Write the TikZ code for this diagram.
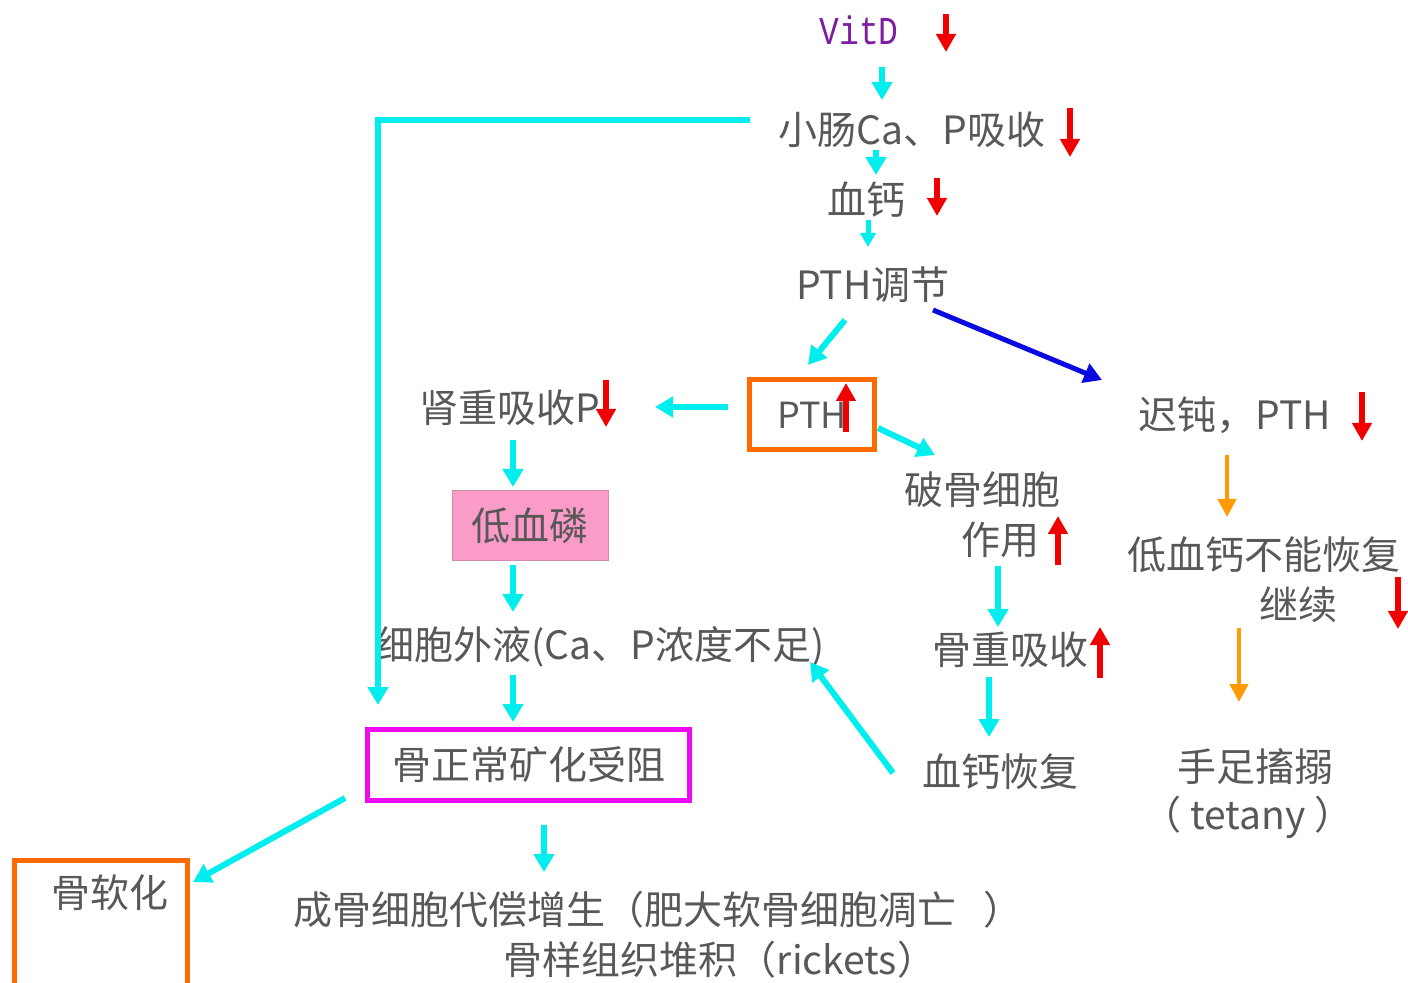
\documentclass[tikz,border=0pt]{standalone}
\usepackage{fontspec}
\setmainfont{Noto Sans CJK SC}
\newfontfamily\monof{Liberation Mono}
\usetikzlibrary{arrows.meta,calc}
\definecolor{cyc}{RGB}{0,238,238}
\definecolor{rdc}{RGB}{240,0,0}
\definecolor{blc}{RGB}{10,10,225}
\definecolor{ora}{RGB}{255,155,0}
\definecolor{orb}{RGB}{255,105,0}
\definecolor{mag}{RGB}{240,10,240}
\definecolor{pinkf}{RGB}{250,155,200}
\definecolor{pinkd}{RGB}{205,140,170}
\definecolor{tgray}{RGB}{88,88,88}
\definecolor{vpur}{RGB}{125,30,160}
\begin{document}
\begin{tikzpicture}[x=0.5pt,y=-0.5pt,
  txt/.style={inner sep=0pt,text=tgray,font=\fontsize{19.5}{23}\selectfont},
  cyarr/.style={draw=cyc,line width=3pt,-{Triangle[width=10pt,length=9pt]}},
  cysmall/.style={draw=cyc,line width=2.5pt,-{Triangle[width=7.5pt,length=7pt]}},
  blarr/.style={draw=blc,line width=2.5pt,-{Triangle[width=10pt,length=9pt]}},
  orarr/.style={draw=ora,line width=2.2pt,-{Triangle[width=9pt,length=9pt]}},
  redarr/.style={draw=rdc,line width=2.6pt,-{Triangle[width=9.5pt,length=9pt]}},
  obox/.style={draw=orb,line width=2.5pt,inner sep=0pt},
]
\useasboundingbox (0,0) rectangle (1408,983);
% nodes
\node[inner sep=0pt,text=vpur,font=\monof\fontsize{16.5}{20}\selectfont] (vitd) at (859,30) {\scalebox{1}[1.2]{VitD}};
\node[txt] (xc) at (912,130) {小肠Ca、P吸收};
\node[txt] (xg) at (866,200) {血钙};
\node[txt] (pth) at (873,285) {PTH调节};
\node[txt,obox,minimum width=62.5pt,minimum height=35pt,font=\fontsize{18}{22}\selectfont] (pthbox) at (812,415) {PTH};
\node[txt] (shen) at (510,408) {肾重吸收P};
\node[txt,draw=pinkd,fill=pinkf,line width=0.5pt,minimum width=78pt,minimum height=35pt] (dxl) at (530,526) {低血磷};
\node[txt] (xbw) at (600,647) {细胞外液(Ca、P浓度不足)};
\node[txt,draw=mag,line width=2.5pt,minimum width=161pt,minimum height=35.5pt] (gz) at (528.5,765) {骨正常矿化受阻};
\node[obox,minimum width=86.25pt,minimum height=70pt] (grbox) at (100.75,930) {};
\node[txt] (gr) at (110,893) {骨软化};
\node[txt] (cbx) at (658,910) {成骨细胞代偿增生（肥大软骨细胞凋亡\ \ \ ）};
\node[txt] (gyz) at (720,960) {骨样组织堆积（rickets）};
\node[txt] (pg) at (982,490) {破骨细胞};
\node[txt] (zy) at (1000,540) {作用};
\node[txt] (gcx) at (1010,650) {骨重吸收};
\node[txt] (xghf) at (1000,772) {血钙恢复};
\node[txt] (cd) at (1235,415) {迟钝，PTH};
\node[txt] (dxg) at (1264,555) {低血钙不能恢复};
\node[txt] (jx) at (1298,605) {继续};
\node[txt] (szc) at (1255,767) {手足搐搦};
\node[txt] (tet) at (1248,817) {（ tetany ）};
% connectors
\draw[cyarr] ($(vitd)+(23,37)$) -- ($(xc)+(-30,-30)$);
\draw[cyarr] ($(xc)+(-36,20)$) -- ($(xg)+(10,-25)$);
\draw[cysmall] ($(xg)+(2,20)$) -- ($(pth)+(-5,-38)$);
\draw[cyarr] ($(pth)+(-28,35)$) -- ($(pthbox)+(-4,-50)$);
\draw[blarr] ($(pth)+(60,25)$) -- ($(cd)+(-133,-35)$);
\draw[cyarr] ($(pthbox)+(-84,-8)$) -- ($(shen)+(145,-1)$);
\draw[cyarr] ($(shen)+(3,32)$) -- ($(dxl)+(-17,-39)$);
\draw[cyarr] ($(dxl)+(-17,39)$) -- ($(xbw)+(-87,-35)$);
\draw[cyarr] ($(xbw)+(-87,28)$) -- ($(gz)+(-15.5,-43)$);
\draw[cyarr,line join=miter] ($(xc)+(-162,-10)$) -| ($(gz)+(-150.5,-60)$);
\draw[cyarr] ($(gz)+(-183.5,33)$) -- ($(grbox)+(92.25,-48)$);
\draw[cyarr] ($(gz)+(15.5,60)$) -- ($(cbx)+(-114,-38)$);
\draw[cyarr] ($(pthbox)+(66,13)$) -- ($(pg)+(-47,-35)$);
\draw[cyarr] ($(zy)+(-2,26)$) -- ($(gcx)+(-12,-23)$);
\draw[cyarr] ($(gcx)+(-21,27)$) -- ($(xghf)+(-11,-35)$);
\draw[cyarr] ($(xghf)+(-107,1)$) -- ($(xbw)+(210,15)$);
\draw[orarr] ($(cd)+(-8,40)$) -- ($(dxg)+(-37,-38)$);
\draw[orarr] ($(jx)+(-59,23)$) -- ($(szc)+(-16,-65)$);
% red indicator arrows
\draw[redarr] (946,14) -- (946,52);
\draw[redarr] (1070,108) -- (1070,157);
\draw[redarr] (937,178) -- (937,216);
\draw[redarr] (846,432) -- (846,383);
\draw[redarr] (606,380) -- (606,427);
\draw[redarr] (1058,565) -- (1058,516);
\draw[redarr] (1100,678) -- (1100,627);
\draw[redarr] (1362,392) -- (1362,441);
\draw[redarr] (1398,577) -- (1398,629);
\end{tikzpicture}
\end{document}
